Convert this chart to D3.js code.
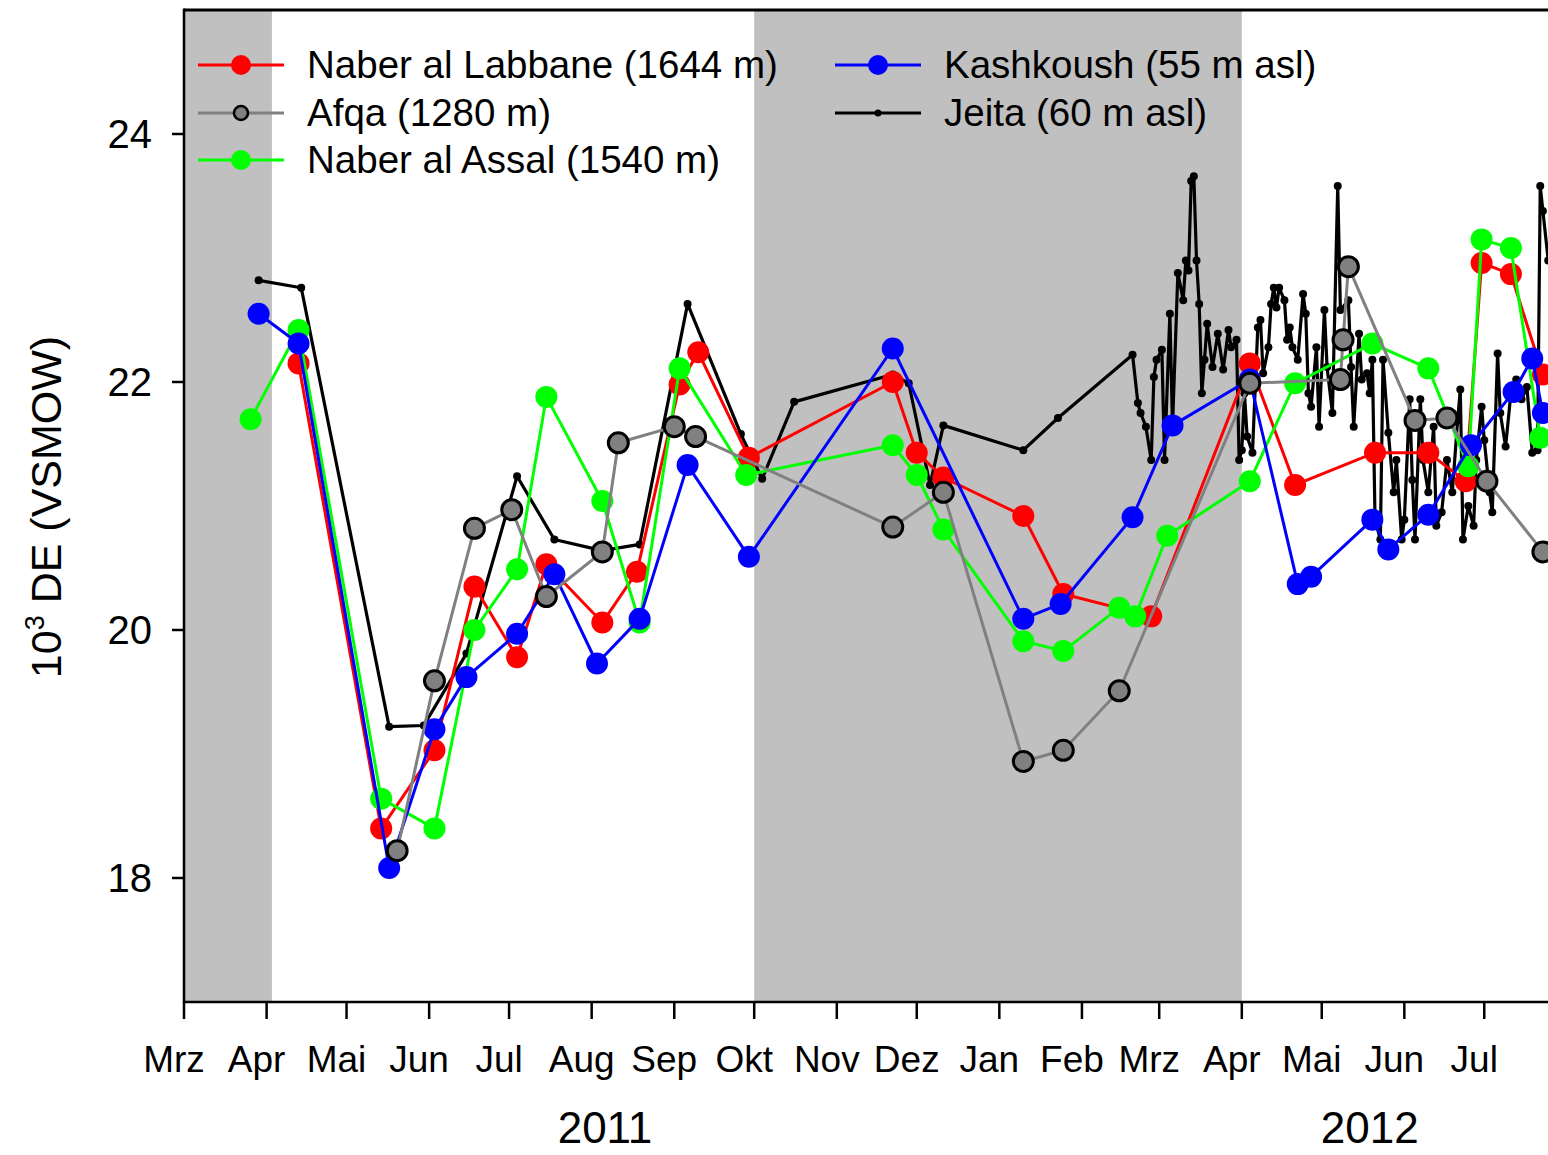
<!DOCTYPE html>
<html>
<head>
<meta charset="utf-8">
<script src="https://cdn.jsdelivr.net/npm/d3@7"></script>
<style>
  body { margin: 0; background: #fff; }
  svg { display: block; }
  text { font-family: "Liberation Sans", Arial, sans-serif; fill: #000; }
</style>
</head>
<body>
<svg id="chart" width="1548" height="1155"></svg>
<script>
// ---- data: [date, 10^3 DE (VSMOW)] ----
const labbane = [
  ["2011-04-13",22.15],["2011-05-14",18.40],["2011-06-03",19.03],["2011-06-18",20.35],
  ["2011-07-04",19.78],["2011-07-15",20.53],["2011-08-05",20.06],["2011-08-18",20.47],
  ["2011-09-03",21.98],["2011-09-10",22.24],["2011-09-29",21.39],["2011-11-22",22.00],
  ["2011-12-01",21.43],["2011-12-11",21.23],["2012-01-10",20.92],["2012-01-25",20.29],
  ["2012-02-27",20.11],["2012-04-04",22.15],["2012-04-21",21.17],["2012-05-21",21.43],
  ["2012-06-10",21.43],["2012-06-24",21.20],["2012-06-30",22.96],["2012-07-11",22.87],
  ["2012-07-23",22.06]
];
const afqa = [
  ["2011-05-20",18.22],["2011-06-03",19.59],["2011-06-18",20.82],["2011-07-02",20.97],
  ["2011-07-15",20.27],["2011-08-05",20.63],["2011-08-11",21.51],["2011-09-01",21.64],
  ["2011-09-09",21.56],["2011-11-22",20.83],["2011-12-11",21.11],["2012-01-10",18.94],
  ["2012-01-25",19.03],["2012-02-15",19.51],["2012-04-04",21.99],["2012-05-08",22.02],
  ["2012-05-09",22.34],["2012-05-11",22.93],["2012-06-05",21.69],["2012-06-17",21.71],
  ["2012-07-02",21.20],["2012-07-23",20.63]
];
const assal = [
  ["2011-03-26",21.70],["2011-04-13",22.42],["2011-05-14",18.64],["2011-06-03",18.40],
  ["2011-06-18",20.00],["2011-07-04",20.49],["2011-07-15",21.88],["2011-08-05",21.04],
  ["2011-08-19",20.06],["2011-09-03",22.11],["2011-09-28",21.25],["2011-11-22",21.49],
  ["2011-12-01",21.25],["2011-12-11",20.81],["2012-01-10",19.91],["2012-01-25",19.83],
  ["2012-02-15",20.18],["2012-02-21",20.11],["2012-03-04",20.76],["2012-04-04",21.20],
  ["2012-04-21",21.99],["2012-05-20",22.31],["2012-06-10",22.11],["2012-06-25",21.32],
  ["2012-06-30",23.15],["2012-07-11",23.08],["2012-07-22",21.55]
];
const kashkoush = [
  ["2011-03-29",22.55],["2011-04-13",22.31],["2011-05-17",18.08],["2011-06-03",19.20],
  ["2011-06-15",19.62],["2011-07-04",19.97],["2011-07-18",20.45],["2011-08-03",19.73],
  ["2011-08-19",20.09],["2011-09-06",21.33],["2011-09-29",20.59],["2011-11-22",22.27],
  ["2012-01-10",20.09],["2012-01-24",20.21],["2012-02-20",20.91],["2012-03-06",21.65],
  ["2012-04-04",22.02],["2012-04-22",20.37],["2012-04-27",20.43],["2012-05-20",20.89],
  ["2012-05-26",20.65],["2012-06-10",20.93],["2012-06-26",21.49],["2012-07-12",21.92],
  ["2012-07-19",22.19],["2012-07-23",21.75]
];
const jeita = [
  ["2011-03-29",22.82],["2011-04-14",22.76],["2011-05-17",19.22],["2011-05-30",19.23],
  ["2011-06-15",19.81],["2011-07-04",21.24],["2011-07-18",20.73],["2011-08-05",20.64],
  ["2011-08-19",20.69],["2011-09-06",22.63],["2011-09-26",21.58],["2011-10-04",21.22],
  ["2011-10-16",21.84],["2011-11-22",22.06],["2011-11-28",21.99],["2011-12-06",21.17],
  ["2011-12-11",21.65],["2012-01-10",21.45],["2012-01-23",21.71],["2012-02-20",22.22],
  ["2012-02-22",21.83],["2012-02-23",21.75],["2012-02-25",21.64],["2012-02-27",21.37],
  ["2012-02-28",22.04],["2012-02-29",22.18],["2012-03-02",22.26],["2012-03-03",21.37],
  ["2012-03-05",22.55],["2012-03-06",21.64],["2012-03-08",22.88],["2012-03-10",22.66],
  ["2012-03-11",22.98],["2012-03-12",22.90],["2012-03-13",23.62],["2012-03-14",23.66],
  ["2012-03-15",22.98],["2012-03-16",22.63],["2012-03-17",21.91],["2012-03-18",22.18],
  ["2012-03-19",22.47],["2012-03-21",22.12],["2012-03-23",22.39],["2012-03-25",22.10],
  ["2012-03-27",22.42],["2012-03-28",22.28],["2012-03-30",22.34],["2012-03-31",21.37],
  ["2012-04-01",21.45],["2012-04-02",21.91],["2012-04-03",21.56],["2012-04-05",21.43],
  ["2012-04-07",22.44],["2012-04-08",22.50],["2012-04-09",22.07],["2012-04-11",22.28],
  ["2012-04-12",22.63],["2012-04-13",22.76],["2012-04-14",22.60],["2012-04-15",22.76],
  ["2012-04-17",22.66],["2012-04-18",22.34],["2012-04-19",22.44],["2012-04-20",22.28],
  ["2012-04-22",22.18],["2012-04-24",22.71],["2012-04-25",22.55],["2012-04-26",21.91],
  ["2012-04-27",21.80],["2012-04-29",22.28],["2012-04-30",21.64],["2012-05-02",22.58],
  ["2012-05-03",22.12],["2012-05-05",21.75],["2012-05-07",23.58],["2012-05-08",22.58],
  ["2012-05-11",22.66],["2012-05-12",22.12],["2012-05-13",21.64],["2012-05-15",22.39],
  ["2012-05-16",22.02],["2012-05-18",22.07],["2012-05-19",21.91],["2012-05-20",22.18],
  ["2012-05-21",20.89],["2012-05-23",20.73],["2012-05-24",22.18],["2012-05-26",21.59],
  ["2012-05-28",21.11],["2012-05-29",21.37],["2012-05-31",20.73],["2012-06-01",20.89],
  ["2012-06-03",21.86],["2012-06-04",21.21],["2012-06-05",20.73],["2012-06-07",21.86],
  ["2012-06-08",21.37],["2012-06-10",21.11],["2012-06-12",21.64],["2012-06-13",20.84],
  ["2012-06-15",20.95],["2012-06-17",21.37],["2012-06-19",21.11],["2012-06-21",21.69],
  ["2012-06-22",21.94],["2012-06-23",20.73],["2012-06-25",21.00],["2012-06-27",20.84],
  ["2012-06-28",21.37],["2012-06-30",21.80],["2012-07-01",21.53],["2012-07-03",21.11],
  ["2012-07-04",20.95],["2012-07-06",22.23],["2012-07-07",21.75],["2012-07-09",21.48],
  ["2012-07-11",21.91],["2012-07-13",22.02],["2012-07-15",21.86],["2012-07-17",21.96],
  ["2012-07-19",21.43],["2012-07-21",21.45],["2012-07-22",23.58],["2012-07-23",23.38],
  ["2012-07-25",22.98]
];

// shaded periods (wet season)
const shadedPeriods = [["2011-03-01","2011-04-03"],["2011-10-01","2012-04-01"]];

const monthLabels = ["Mrz","Apr","Mai","Jun","Jul","Aug","Sep","Okt","Nov","Dez","Jan","Feb","Mrz","Apr","Mai","Jun","Jul"];
const yearLabels = ["2011","2012"];
const yTicks = [18, 20, 22, 24];

const seriesNames = ["Naber al Labbane (1644 m)","Afqa (1280 m)","Naber al Assal (1540 m)","Kashkoush (55 m asl)","Jeita (60 m asl)"];

// ---- setup ----
const parse = d3.utcParse("%Y-%m-%d");
const svg = d3.select("#chart");

const plotLeft = 184, plotTop = 10, plotBottom = 1002;
const pxPerDay = 2.6645;
const xStart = parse("2011-03-01"), xEnd = parse("2012-08-01");
const nDays = d3.utcDay.count(xStart, xEnd);

const x = d3.scaleUtc().domain([xStart, xEnd]).range([plotLeft, plotLeft + nDays * pxPerDay]);
const y = d3.scaleLinear().domain([17, 25]).range([plotBottom, plotTop]);

svg.append("defs").append("clipPath").attr("id", "plot-clip")
  .append("rect").attr("x", plotLeft).attr("y", plotTop)
  .attr("width", 2000).attr("height", plotBottom - plotTop);

// shading
svg.append("g").selectAll("rect").data(shadedPeriods).join("rect")
  .attr("x", d => x(parse(d[0])))
  .attr("y", plotTop)
  .attr("width", d => x(parse(d[1])) - x(parse(d[0])))
  .attr("height", plotBottom - plotTop)
  .attr("fill", "#c0c0c0");

const plot = svg.append("g").attr("clip-path", "url(#plot-clip)");
const line = d3.line().x(d => x(parse(d[0]))).y(d => y(d[1]));

// Jeita (continuous record, small markers)
plot.append("path").datum(jeita)
  .attr("d", line).attr("fill", "none").attr("stroke", "#000").attr("stroke-width", 3.2)
  .attr("stroke-linejoin", "round");
plot.append("g").selectAll("circle").data(jeita).join("circle")
  .attr("cx", d => x(parse(d[0]))).attr("cy", d => y(d[1])).attr("r", 4).attr("fill", "#000");

function drawSeries(data, color, markerFill, markerStroke) {
  plot.append("path").datum(data)
    .attr("d", line).attr("fill", "none").attr("stroke", color).attr("stroke-width", 3)
    .attr("stroke-linejoin", "round");
  plot.append("g").selectAll("circle").data(data).join("circle")
    .attr("cx", d => x(parse(d[0]))).attr("cy", d => y(d[1]))
    .attr("r", markerStroke ? 10 : 11)
    .attr("fill", markerFill)
    .attr("stroke", markerStroke || "none")
    .attr("stroke-width", markerStroke ? 3 : 0);
}
drawSeries(labbane, "#ff0000", "#ff0000");
drawSeries(assal, "#00ff00", "#00ff00");
drawSeries(kashkoush, "#0000ff", "#0000ff");
drawSeries(afqa, "#808080", "#808080", "#000");

// frame and axes
svg.append("line").attr("x1", plotLeft).attr("x2", 1548).attr("y1", plotTop).attr("y2", plotTop)
  .attr("stroke", "#000").attr("stroke-width", 3);
svg.append("line").attr("x1", plotLeft).attr("x2", 1548).attr("y1", plotBottom).attr("y2", plotBottom)
  .attr("stroke", "#000").attr("stroke-width", 2.5);
svg.append("line").attr("x1", plotLeft).attr("x2", plotLeft).attr("y1", plotTop - 1.5).attr("y2", plotBottom + 1)
  .attr("stroke", "#000").attr("stroke-width", 2.5);

// y ticks
const yAxis = svg.append("g");
yAxis.selectAll("line").data(yTicks).join("line")
  .attr("x1", plotLeft - 12).attr("x2", plotLeft).attr("y1", d => y(d)).attr("y2", d => y(d))
  .attr("stroke", "#000").attr("stroke-width", 2.5);
yAxis.selectAll("text").data(yTicks).join("text")
  .attr("x", 152).attr("y", d => y(d) + 14).attr("text-anchor", "end")
  .attr("font-size", 40).text(d => d);

// x ticks at month starts
const months = d3.utcMonth.range(xStart, xEnd);
const xAxis = svg.append("g");
xAxis.selectAll("line").data(months).join("line")
  .attr("x1", d => x(d)).attr("x2", d => x(d)).attr("y1", plotBottom).attr("y2", plotBottom + 17)
  .attr("stroke", "#000").attr("stroke-width", 2.5);
xAxis.selectAll("text").data(months).join("text")
  .attr("x", d => x(d) - 10).attr("y", 1072).attr("text-anchor", "middle")
  .attr("font-size", 37).text((d, i) => monthLabels[i]);

// year labels
const yearCenters = [parse("2011-08-06"), parse("2012-05-19")];
svg.append("g").selectAll("text").data(yearLabels).join("text")
  .attr("x", (d, i) => x(yearCenters[i])).attr("y", 1143).attr("text-anchor", "middle")
  .attr("font-size", 44).text(d => d);

// y axis title
const yt = svg.append("text").attr("transform", "translate(61,507) rotate(-90)")
  .attr("text-anchor", "middle").attr("font-size", 43);
yt.append("tspan").text("10");
yt.append("tspan").attr("font-size", 27).attr("dy", -17).text("3");
yt.append("tspan").attr("dy", 17).text(" DE (VSMOW)");

// legend
const legendItems = [
  {name: seriesNames[0], color: "#ff0000", fill: "#ff0000", stroke: null, r: 10, lx: 198, rowY: 65},
  {name: seriesNames[1], color: "#808080", fill: "#808080", stroke: "#000", r: 7, lx: 198, rowY: 113},
  {name: seriesNames[2], color: "#00ff00", fill: "#00ff00", stroke: null, r: 10, lx: 198, rowY: 160},
  {name: seriesNames[3], color: "#0000ff", fill: "#0000ff", stroke: null, r: 10, lx: 835, rowY: 65},
  {name: seriesNames[4], color: "#000", fill: "#000", stroke: null, r: 3.5, lx: 835, rowY: 113}
];
const lg = svg.append("g").selectAll("g").data(legendItems).join("g")
  .attr("transform", d => `translate(${d.lx},${d.rowY})`);
lg.append("line").attr("x1", 0).attr("x2", 86).attr("y1", 0).attr("y2", 0)
  .attr("stroke", d => d.color).attr("stroke-width", 3);
lg.append("circle").attr("cx", 43).attr("cy", 0).attr("r", d => d.r)
  .attr("fill", d => d.fill).attr("stroke", d => d.stroke || "none").attr("stroke-width", 2.6);
lg.append("text").attr("x", 109).attr("y", 13).attr("font-size", 38.5).text(d => d.name);
</script>
</body>
</html>
